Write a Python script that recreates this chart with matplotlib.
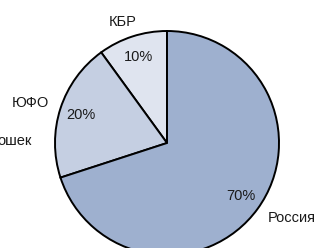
import numpy as np
import matplotlib
matplotlib.use('Agg')
import matplotlib.pyplot as plt

plt.rcParams['font.family'] = ['Liberation Sans', 'DejaVu Sans']

regions = ['Россия', 'ЮФО', 'КБР']
shares = [70, 20, 10]
colors = ['#9eb0cf', '#c5cfe2', '#dfe4ef']
label_dist = [1.30, 1.27, 1.15]
label_shift = [5, 1.5, 2]   # degrees, nudges the outer labels like the original
# cut-off caption at the left edge of the original picture
side_text = 'ошек'

fs = 10.5
tc = '#1a1a1a'

fig = plt.figure(figsize=(3.19, 2.48), dpi=100)
ax = fig.add_axes([0, 0, 1, 1])

# pie centre at (167,143) px from top-left, radius 112 px
cx, cy, r = 167, 143, 112

# draw counterclockwise from the top, smallest slice first like the original
order = [2, 1, 0]
wedges, _, autotexts = ax.pie([shares[i] for i in order],
                              colors=[colors[i] for i in order],
                              startangle=90, counterclock=True,
                              autopct='%d%%', pctdistance=0.81,
                              wedgeprops=dict(edgecolor='black', linewidth=1.4),
                              textprops=dict(fontsize=fs, color=tc))
ax.set_aspect('equal')
ax.set_xlim(-cx / r, (319 - cx) / r)
ax.set_ylim(-(248 - cy) / r, cy / r)
ax.axis('off')

for w, i in zip(wedges, order):
    mid = np.deg2rad((w.theta1 + w.theta2) / 2 + label_shift[i])
    d = label_dist[i]
    ax.text(d * np.cos(mid), d * np.sin(mid), regions[i],
            ha='center', va='center', fontsize=fs, color=tc)

ax.text((32 - cx) / r, (cy - 141) / r, side_text, ha='right', va='center',
        fontsize=fs, color=tc)

fig.savefig('out.png', dpi=100)
